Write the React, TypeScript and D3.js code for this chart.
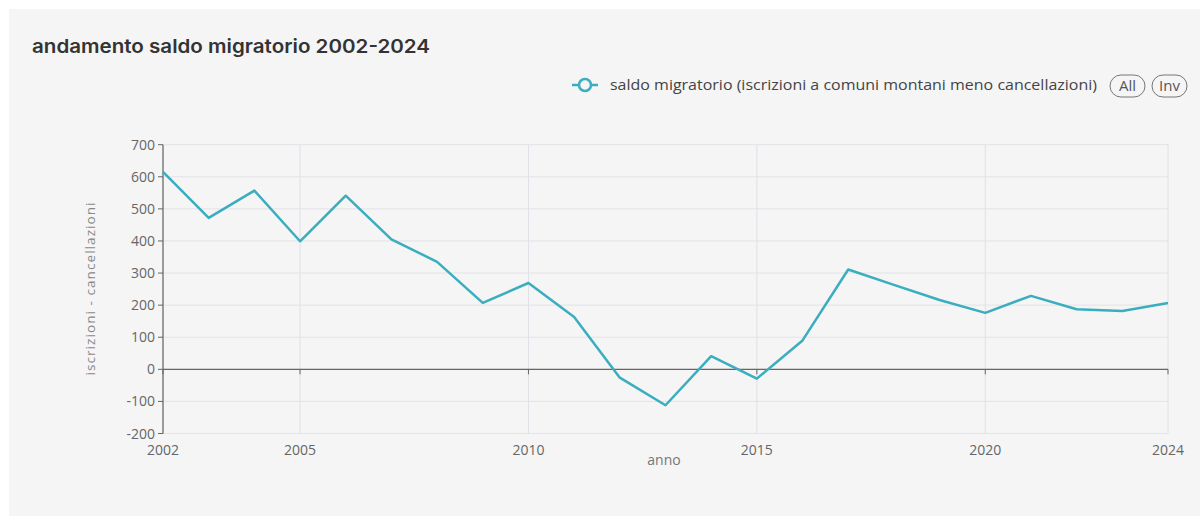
import React from "react";
import * as d3 from "d3";

const years = [2002,2003,2004,2005,2006,2007,2008,2009,2010,2011,2012,2013,2014,2015,2016,2017,2018,2019,2020,2021,2022,2023,2024];
const saldo = [615,472,557,399,541,405,335,207,269,163,-26,-112,41,-29,90,311,263,216,176,229,187,182,207];
const yTicks = [-200,-100,0,100,200,300,400,500,600,700];
const xTicks = [2002,2005,2010,2015,2020,2024];
const title = "andamento saldo migratorio 2002-2024";
const seriesName = "saldo migratorio (iscrizioni a comuni montani meno cancellazioni)";
const yLabel = "iscrizioni - cancellazioni";
const xLabel = "anno";

const W = 1200, H = 516;
const left = 163, right = 1168, top = 144.7, bottom = 433.5;
const font = "'Segoe UI', 'Open Sans', 'Noto Sans', sans-serif";
const lineColor = "#3aadbf";

export default function App() {
  const x = d3.scaleLinear().domain([2002, 2024]).range([left, right]);
  const y = d3.scaleLinear().domain([-200, 700]).range([bottom, top]);
  const line = d3.line<number>().x((_, i) => x(years[i])).y((d) => y(d));
  const y0 = y(0);
  return (
    <svg width={W} height={H} style={{ position: "absolute", left: 0, top: 0, display: "block" }}>
      <rect x={0} y={0} width={W} height={H} fill="#ffffff" />
      <rect x={9} y={9} width={W - 9} height={H - 9} fill="#f5f5f5" />
      <text x={32} y={53} fontFamily="Inter, 'Open Sans', sans-serif" fontWeight={600} fontSize={19} textLength={398} lengthAdjust="spacingAndGlyphs" fill="#333">{title}</text>
      {/* legend */}
      <g>
        <line x1={572} x2={598} y1={85} y2={85} stroke={lineColor} strokeWidth={2.5} />
        <circle cx={585} cy={85} r={6} fill="#f5f5f5" stroke={lineColor} strokeWidth={2.5} />
        <text x={610} y={90} fontFamily={font} fontSize={15} textLength={487} lengthAdjust="spacingAndGlyphs" fill="#444">{seriesName}</text>
        <rect x={1110} y={75} width={35} height={22} rx={11} fill="none" stroke="#777" strokeWidth={1} />
        <text x={1127.5} y={91} textAnchor="middle" fontFamily={font} fontSize={15} fill="#555">All</text>
        <rect x={1152} y={75} width={35} height={22} rx={11} fill="none" stroke="#777" strokeWidth={1} />
        <text x={1169.5} y={91} textAnchor="middle" fontFamily={font} fontSize={15} fill="#555">Inv</text>
      </g>
      {/* grid */}
      {yTicks.map((t) => (
        <line key={"gy" + t} x1={left} x2={right} y1={y(t)} y2={y(t)} stroke="#e3e3e8" strokeWidth={1} />
      ))}
      {xTicks.map((t) => (
        <line key={"gx" + t} x1={x(t)} x2={x(t)} y1={top} y2={bottom} stroke="#e0e0e6" strokeWidth={1} />
      ))}
      {/* axes */}
      <line x1={left} x2={left} y1={top} y2={bottom} stroke="#666" strokeWidth={1.2} />
      <line x1={left} x2={right} y1={y0} y2={y0} stroke="#666" strokeWidth={1.2} />
      {xTicks.map((t) => (
        <line key={"tx" + t} x1={x(t)} x2={x(t)} y1={y0} y2={y0 + 5} stroke="#666" strokeWidth={1} />
      ))}
      {yTicks.map((t) => (
        <g key={"ty" + t}>
          <line x1={left - 5} x2={left} y1={y(t)} y2={y(t)} stroke="#666" strokeWidth={1} />
          <text x={left - 8} y={y(t) + 5} textAnchor="end" fontFamily={font} fontSize={14} fill="#666">{t}</text>
        </g>
      ))}
      {xTicks.map((t) => (
        <text key={"lx" + t} x={x(t)} y={455} textAnchor="middle" fontFamily={font} fontSize={14} fill="#666">{t}</text>
      ))}
      <text x={664} y={465} textAnchor="middle" fontFamily={font} fontSize={14} fill="#777">{xLabel}</text>
      <text transform={`translate(95,289) rotate(-90)`} textAnchor="middle" fontFamily={font} fontSize={13.5} textLength={173} lengthAdjust="spacing" fill="#888">{yLabel}</text>
      <path d={line(saldo) || ""} fill="none" stroke={lineColor} strokeWidth={2.5} strokeLinejoin="round" />
    </svg>
  );
}
